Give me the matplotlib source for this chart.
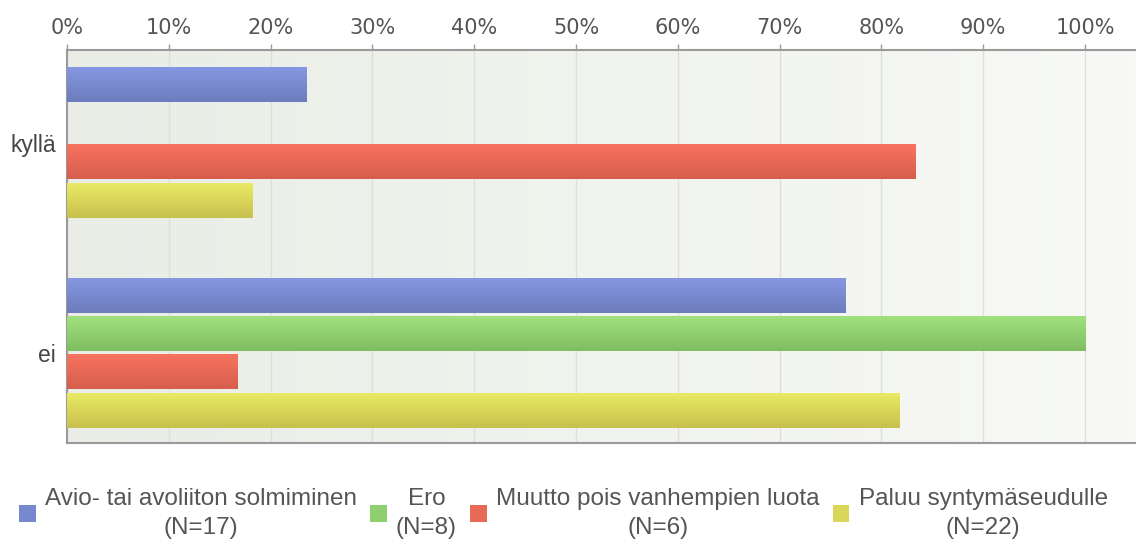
import numpy as np
import matplotlib.pyplot as plt
from matplotlib.colors import LinearSegmentedColormap
from matplotlib.patches import Patch

categories = ["kyllä", "ei"]
series = ["Avio- tai avoliiton solmiminen", "Ero",
          "Muutto pois vanhempien luota", "Paluu syntymäseudulle"]
n_counts = [17, 8, 6, 22]
# percent per series, in category order (kyllä, ei)
values = [
    [23.5, 76.5],
    [0.0, 100.0],
    [83.3, 16.7],
    [18.2, 81.8],
]
ticks = list(range(0, 101, 10))

top_cols = ["#8597e1", "#a1e17d", "#f8735f", "#eaea65"]
bot_cols = ["#6d7cbc", "#80bd62", "#d65e4e", "#c8c04d"]
mid_cols = ["#7888cf", "#8fcf6f", "#e76a57", "#d9d659"]

fig = plt.figure(figsize=(11.36, 5.41), dpi=100)
ax = fig.add_axes([0.059, 0.181, 0.941, 0.7265])

xmax, ylo, yhi = 105, -0.44, 1.43
# soft background gradient
bg = np.linspace(0, 1, 200).reshape(1, -1)
bg_cmap = LinearSegmentedColormap.from_list("bg", ["#eaede6", "#f8f9f6"])
ax.imshow(bg, extent=[0, xmax, yhi, ylo], aspect="auto", cmap=bg_cmap, zorder=-2)

bar_h = 0.166
pitch = 0.1825
y = np.arange(len(categories))
grad = np.linspace(0, 1, 50).reshape(-1, 1)
for i, name in enumerate(series):
    offs = y + (i - 1.5) * pitch
    bars = ax.barh(offs, values[i], height=bar_h, color=mid_cols[i], zorder=2)
    cmap = LinearSegmentedColormap.from_list(name, [top_cols[i], bot_cols[i]])
    for r in bars:
        if r.get_width() <= 0:
            continue
        y0 = r.get_y()
        ax.imshow(grad, extent=[0, r.get_width(), y0 + r.get_height(), y0],
                  aspect="auto", cmap=cmap, origin="upper", zorder=3)

ax.set_xlim(0, xmax)
ax.set_ylim(yhi, ylo)
ax.set_xticks(ticks)
ax.set_xticklabels([f"{t}%" for t in ticks])
ax.xaxis.tick_top()
ax.tick_params(axis="x", length=4, width=1, color="#999999", pad=5,
               labelsize=15, labelcolor="#555555")
ax.set_yticks(y)
ax.set_yticklabels(categories, fontsize=16.5, color="#444444", family="Liberation Sans")
ax.tick_params(axis="y", length=0, pad=8)
ax.grid(axis="x", color="#dcdfdb", linewidth=1, zorder=-1)
ax.set_axisbelow(True)
for s in ["top", "left", "bottom"]:
    ax.spines[s].set_color("#9a9a9a")
    ax.spines[s].set_linewidth(1.5)
ax.spines["right"].set_visible(False)

handles = [Patch(facecolor=c, edgecolor="none") for c in mid_cols]
labels = [f"{s}\n(N={n})" for s, n in zip(series, n_counts)]
leg = fig.legend(handles, labels, loc="lower center", bbox_to_anchor=(0.496, -0.028),
                 ncol=4, frameon=False, handlelength=0.68, handleheight=0.68,
                 handletextpad=0.38, columnspacing=0.55, borderpad=0.2,
                 prop={"family": "Liberation Sans", "size": 17.5})
for t in leg.get_texts():
    t.set_multialignment("center")
    t.set_linespacing(1.42)
    t.set_color("#555555")

fig.savefig("out.png", dpi=100)
